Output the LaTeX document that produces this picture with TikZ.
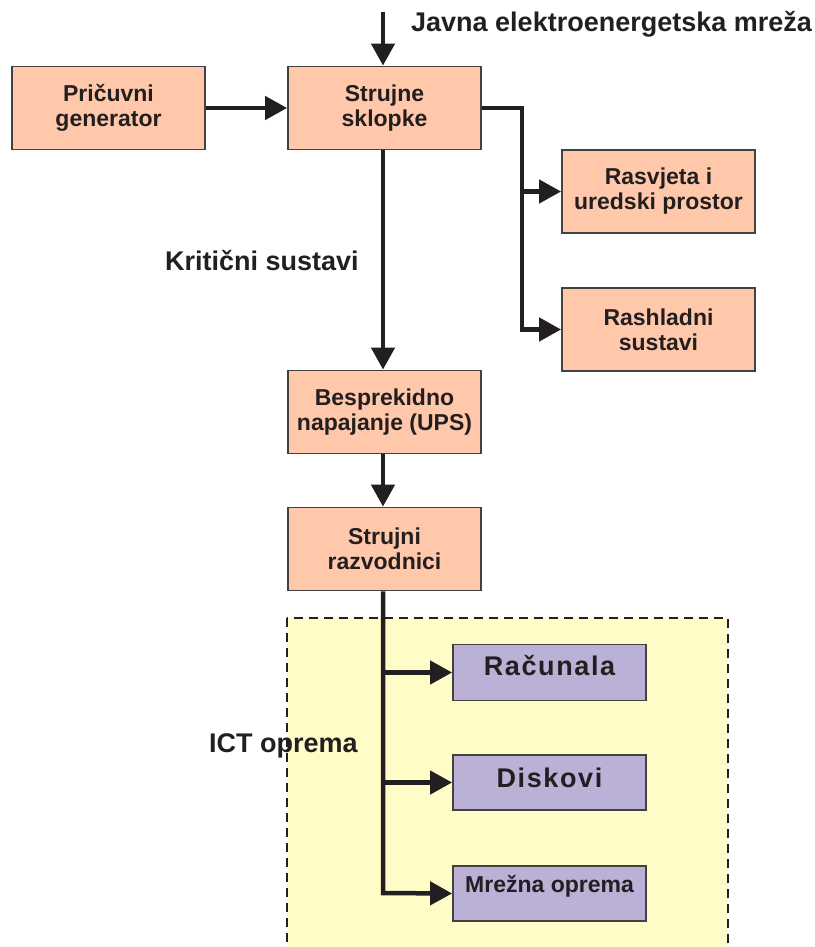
\documentclass[tikz,border=0pt]{standalone}
\usepackage{fontspec}
\setmainfont{Liberation Sans}
\newfontfamily\spacedfont{Liberation Sans}[LetterSpace=6]
\usetikzlibrary{arrows.meta}
\definecolor{peach}{HTML}{FFC8AA}
\definecolor{lilac}{HTML}{BBB0D6}
\definecolor{paleyellow}{HTML}{FFFCC8}
\definecolor{ink}{HTML}{231F20}
\tikzset{
  boxstyle/.style={draw=ink!85, line width=1.8pt, fill=peach, minimum width=193pt, minimum height=83pt,
    inner sep=0pt, align=center, text=ink, font=\bfseries\fontsize{23pt}{25pt}\selectfont},
  ictbox/.style={boxstyle, fill=lilac, minimum height=56pt},
  conn/.style={draw=ink, line width=4.5pt, miter limit=10},
  arr/.style={conn, -{Triangle[length=22pt,width=23pt]}},
  lbl/.style={text=ink, inner sep=0pt, anchor=base west, font=\bfseries\fontsize{27pt}{30pt}\selectfont},
}
\begin{document}
\begin{tikzpicture}[x=1pt, y=-1pt]
\useasboundingbox (0,0) rectangle (814,947);
% ICT area
\begin{scope}
\clip (0,0) rectangle (814,947);
\draw[fill=paleyellow, draw=ink, line width=1.8pt, dash pattern=on 9pt off 6pt] (287,618) rectangle (728,980);
\end{scope}
% boxes
\node[boxstyle] (gen) at (108.5,108) {Pričuvni\\generator};
\node[boxstyle] (sw) at (384.5,108) {Strujne\\sklopke};
\node[boxstyle] (ras) at (658.5,191.5) {Rasvjeta i\\uredski prostor};
\node[boxstyle] (cool) at (658.5,329.5) {Rashladni\\sustavi};
\node[boxstyle] (ups) at (384.5,412) {Besprekidno\\napajanje (UPS)};
\node[boxstyle] (pdu) at (384.5,549) {Strujni\\razvodnici};
\node[ictbox, font=\bfseries\spacedfont\fontsize{27pt}{30pt}\selectfont, text height=19pt, text depth=14pt] (rac) at (549.5,672.5) {Računala};
\node[ictbox, font=\bfseries\spacedfont\fontsize{27pt}{30pt}\selectfont, text height=20pt, text depth=11pt, minimum height=55pt] (disk) at (549.5,782.5) {Diskovi};
\node[ictbox, text height=16pt, text depth=18pt, minimum height=55pt] (net) at (549.5,893.5) {Mrežna oprema};
% labels
\node[lbl] (javna) at (411,32) {Javna elektroenergetska mreža};
\node[lbl] (krit) at (165,270) {Kritični sustavi};
\node[lbl] (ictl) at (209,752) {ICT oprema};
% connectors
\coordinate (src) at (383,12);
\coordinate (jA) at (522,108);
\coordinate (jB) at (383,893);
\draw[arr] (src) -- (src |- sw.north);
\draw[arr] (gen.east) -- (sw.west);
\draw[arr] (sw.east) -- (jA) |- (cool.west);
\draw[arr] (jA |- ras.west) -- (ras.west);
\draw[arr] (sw.south -| src) -- (src |- ups.north);
\draw[arr] (ups.south -| src) -- (src |- pdu.north);
\draw[arr] (pdu.south -| src) -- (jB) -- (net.west);
\draw[arr] (jB |- rac.west) -- (rac.west);
\draw[arr] (jB |- disk.west) -- (disk.west);
\end{tikzpicture}
\end{document}
